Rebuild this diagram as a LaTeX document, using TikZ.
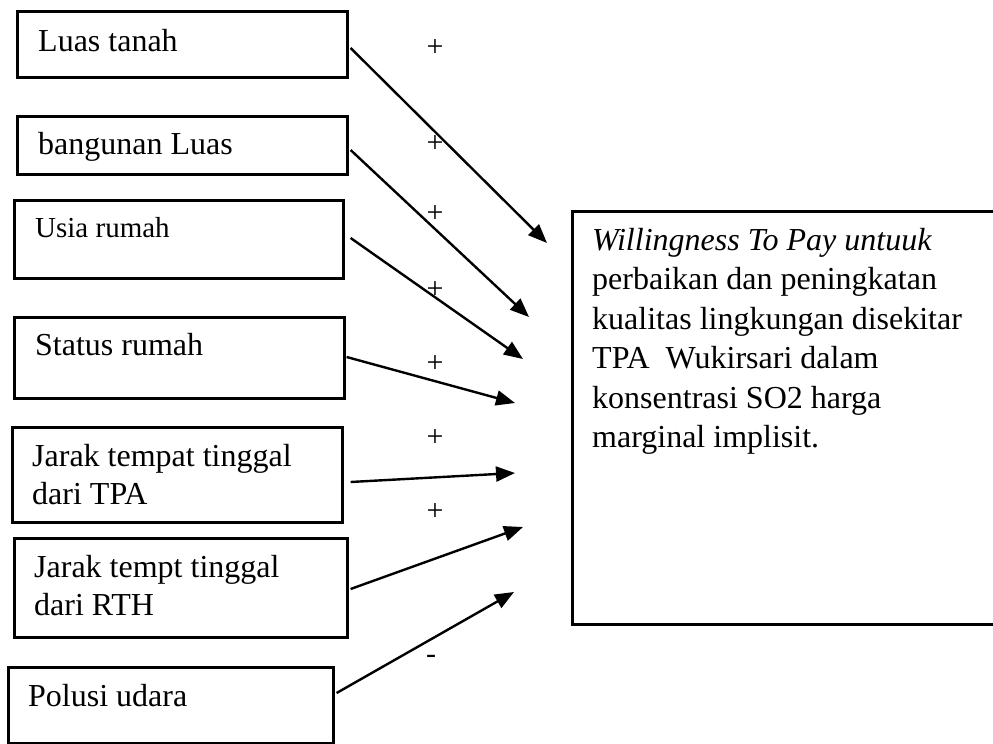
\documentclass[tikz,border=0pt]{standalone}
\usepackage{fontspec}
\setmainfont{Liberation Serif}
\usetikzlibrary{arrows.meta}
\begin{document}
\begin{tikzpicture}[x=1pt,y=-1pt,
  box/.style={draw=black,line width=2.6pt,rectangle,inner sep=0pt,anchor=north west},
  txt/.style={inner sep=0pt,anchor=base west,font=\fontsize{32}{38.5}\selectfont},
  mtxt/.style={inner sep=0pt,anchor=north west,align=left,font=\fontsize{32}{38.5}\selectfont},
  sign/.style={inner sep=0pt,font=\fontsize{30}{36}\selectfont},
  arr/.style={line width=2.4pt,-{Triangle[length=19pt,width=15pt]}}]
\useasboundingbox (0,0) rectangle (993,744);
\begin{scope}
\clip (0,0) rectangle (993,744);
% left boxes
\node[box,minimum width=330pt,minimum height=66pt] (b1) at (16,10) {};
\node[box,minimum width=330pt,minimum height=58pt] (b2) at (16,115) {};
\node[box,minimum width=329pt,minimum height=78pt] (b3) at (13,199) {};
\node[box,minimum width=330pt,minimum height=81pt] (b4) at (13,316) {};
\node[box,minimum width=330pt,minimum height=95pt] (b5) at (11,426) {};
\node[box,minimum width=333pt,minimum height=99pt] (b6) at (13,537) {};
\node[box,minimum width=325pt,minimum height=76pt] (b7) at (7,666) {};
% right box (right side runs off the picture)
\node[box,minimum width=440pt,minimum height=413pt] (r) at (571,210) {};
\end{scope}
% texts
\node[txt] (l1) at (38,51) {Luas tanah};
\node[txt] (l2) at (38,154) {bangunan Luas};
\node[txt,font=\fontsize{29}{35}\selectfont] (l3) at (35,237) {Usia rumah};
\node[txt] (l4) at (35,355) {Status rumah};
\node[mtxt] (l5) at (32,444) {Jarak tempat tinggal\\dari TPA};
\node[mtxt] (l6) at (34,555) {Jarak tempt tinggal\\dari RTH};
\node[txt] (l7) at (28,706) {Polusi udara};
\node[mtxt,font=\fontsize{32}{39.5}\selectfont] (rt) at (592,228) {\textit{Willingness To Pay untuuk}\\perbaikan dan peningkatan\\kualitas lingkungan disekitar\\TPA\ \ Wukirsari dalam\\konsentrasi SO2 harga\\marginal implisit.};
% signs
\node[sign] (p1) at (435,48) {+};
\node[sign] (p2) at (435,144) {+};
\node[sign] (p3) at (435,214) {+};
\node[sign] (p4) at (435,290) {+};
\node[sign] (p5) at (435,364) {+};
\node[sign] (p6) at (435,438) {+};
\node[sign] (p7) at (435,512) {+};
\node[sign] (m1) at (431,659) {-};
% arrow targets
\coordinate (t1) at (547,243);
\coordinate (t2) at (529,317);
\coordinate (t3) at (523,359);
\coordinate (t4) at (515,403);
\coordinate (t5) at (515,473);
\coordinate (t6) at (523,527);
\coordinate (t7) at (514,592);
% arrows
\draw[arr] ([shift={(2,38)}]b1.north east) -- (t1);
\draw[arr] ([shift={(2,35)}]b2.north east) -- (t2);
\draw[arr] ([shift={(6,39)}]b3.north east) -- (t3);
\draw[arr] ([shift={(1,41)}]b4.north east) -- (t4);
\draw[arr] ([shift={(7,56)}]b5.north east) -- (t5);
\draw[arr] ([shift={(2,52)}]b6.north east) -- (t6);
\draw[arr] ([shift={(2,27)}]b7.north east) -- (t7);
\end{tikzpicture}
\end{document}
